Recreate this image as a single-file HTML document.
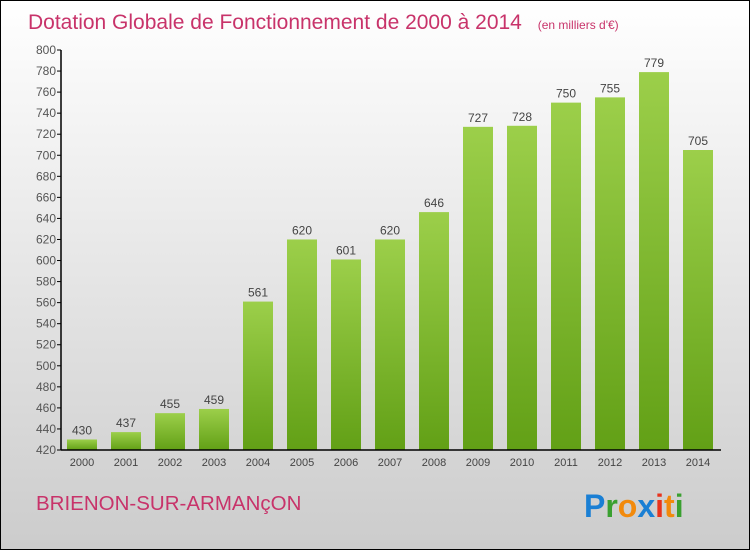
<!DOCTYPE html>
<html><head><meta charset="utf-8"><style>
body{margin:0;width:750px;height:550px;overflow:hidden}
svg{display:block}
text{font-family:"Liberation Sans","DejaVu Sans",sans-serif}
</style></head><body>
<svg id="c" width="750" height="550">
<defs>
<linearGradient id="bg" x1="0" y1="0" x2="0" y2="1"><stop offset="0" stop-color="#ffffff"/><stop offset="1" stop-color="#cccccc"/></linearGradient>
<linearGradient id="bar" x1="0" y1="0" x2="0" y2="1"><stop offset="0" stop-color="#9ccf4a"/><stop offset="1" stop-color="#62a016"/></linearGradient>
</defs>
<rect x="0.5" y="0.5" width="749" height="549" fill="url(#bg)" stroke="#000"/>
<text x="28" y="29" font-size="21" fill="#c8336a">Dotation Globale de Fonctionnement de 2000 à 2014 <tspan font-size="12" dx="10">(en milliers d'€)</tspan></text>
<text x="36" y="510" font-size="20.5" fill="#c8336a">BRIENON-SUR-ARMANçON</text>
<text x="584" y="517" font-size="32" font-weight="bold"><tspan fill="#1a7fd4">P</tspan><tspan fill="#3aa030">r</tspan><tspan fill="#f28a0c">o</tspan><tspan fill="#1a7fd4">x</tspan><tspan fill="#e8331c">i</tspan><tspan fill="#f28a0c">t</tspan><tspan fill="#3aa030">i</tspan></text>
<g id="plot"></g>
</svg>
<script>
const years=["2000","2001","2002","2003","2004","2005","2006","2007","2008","2009","2010","2011","2012","2013","2014"];
const values=[430,437,455,459,561,620,601,620,646,727,728,750,755,779,705];
const yTicks=[420,440,460,480,500,520,540,560,580,600,620,640,660,680,700,720,740,760,780,800];
const yMin=420,yMax=800,plotTop=50,plotBot=450,x0=61;
const yS=v=>plotBot-(v-yMin)/(yMax-yMin)*(plotBot-plotTop);
const xc=i=>82+i*44;
const g=document.getElementById('plot');
const NS='http://www.w3.org/2000/svg';
function mk(t,a){const e=document.createElementNS(NS,t);for(const k in a)e.setAttribute(k,a[k]);g.appendChild(e);return e;}
yTicks.forEach(v=>{
 const l=mk('line',{x1:x0-4,x2:x0,y1:yS(v),y2:yS(v),stroke:'#000'});
 
 
 const t=mk('text',{x:x0-5,y:yS(v)+4,'font-size':12,fill:'#555','text-anchor':'end'});
 t.textContent=v;
 
 
});
values.forEach((v,i)=>{
 const r=mk('rect',{x:xc(i)-15,y:yS(v),width:30,height:plotBot-yS(v),fill:'url(#bar)'});
 
 
 const t=mk('text',{x:xc(i),y:yS(v)-5,'font-size':12,fill:'#444','text-anchor':'middle'});
 t.textContent=v;
 
 
 const xl=mk('text',{x:xc(i),y:plotBot+16,'font-size':11,fill:'#444','text-anchor':'middle'});
 xl.textContent=years[i];
 
 
});
const ya=mk('line',{x1:x0,x2:x0,y1:plotTop,y2:plotBot,stroke:'#000','stroke-width':1.5});


const xa=mk('line',{x1:x0,x2:721,y1:plotBot,y2:plotBot,stroke:'#000','stroke-width':1.5});


</script>
</body></html>
